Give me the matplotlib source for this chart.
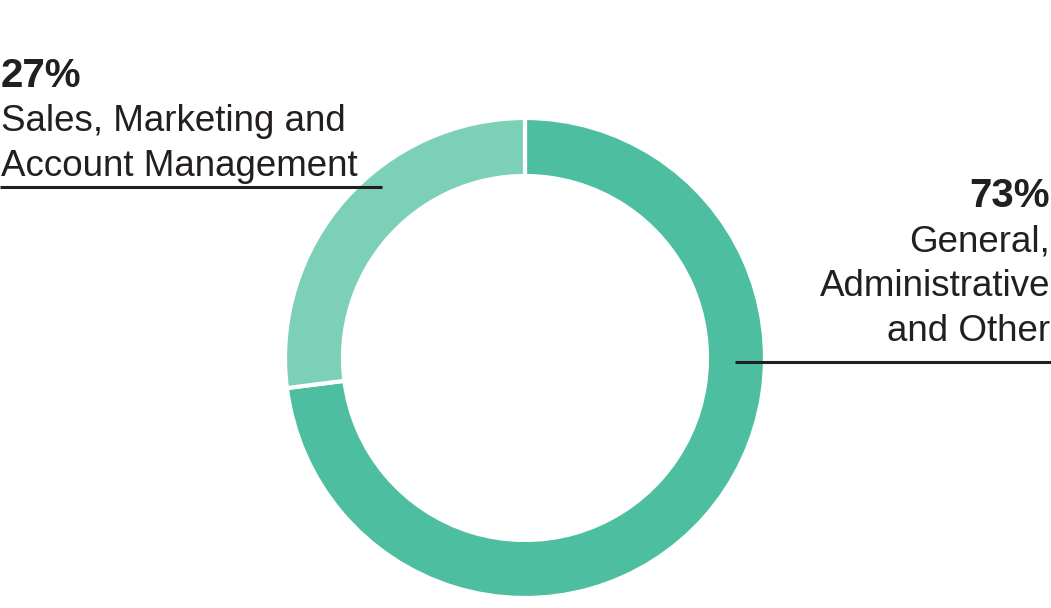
import matplotlib
matplotlib.use("Agg")
import matplotlib.pyplot as plt

# data
labels = ["General,\nAdministrative\nand Other", "Sales, Marketing and\nAccount Management"]
shares = [73, 27]
share_text = ["73%", "27%"]
colors = ["#4dbfa0", "#7dd0b8"]

W, H = 1051, 608
plt.rcParams['font.family'] = ['Liberation Sans', 'DejaVu Sans']

fig = plt.figure(figsize=(W / 100, H / 100), dpi=100)
ax = fig.add_axes([0, 0, 1, 1])

# donut, pixel coordinates (y measured from the bottom)
ax.pie(shares, colors=colors, startangle=90, counterclock=False,
       center=(525, H - 358), radius=240,
       wedgeprops=dict(width=58, edgecolor="white", linewidth=3))

ax.set_xlim(0, W)
ax.set_ylim(0, H)
ax.set_aspect("equal")
ax.axis("off")

ink = "#231f20"
step = 45  # baseline to baseline


def label_block(x, top_base, pct, text, ha):
    ax.text(x, H - top_base, pct, fontsize=29, fontweight="bold", color=ink,
            ha=ha, va="baseline")
    for i, line in enumerate(text.split("\n")):
        ax.text(x, H - (top_base + step * (i + 1)) + 1, line, fontsize=26.5,
                color=ink, ha=ha, va="baseline")


# left label (27%)
ax.plot([0, 382], [H - 187, H - 187], color=ink, lw=2.2, solid_capstyle="butt")
label_block(1, 87, share_text[1], labels[1], "left")

# right label (73%)
ax.plot([735, W], [H - 362, H - 362], color=ink, lw=2.2, solid_capstyle="butt")
label_block(W - 1, 207, share_text[0], labels[0], "right")

fig.savefig("out.png", dpi=100)
